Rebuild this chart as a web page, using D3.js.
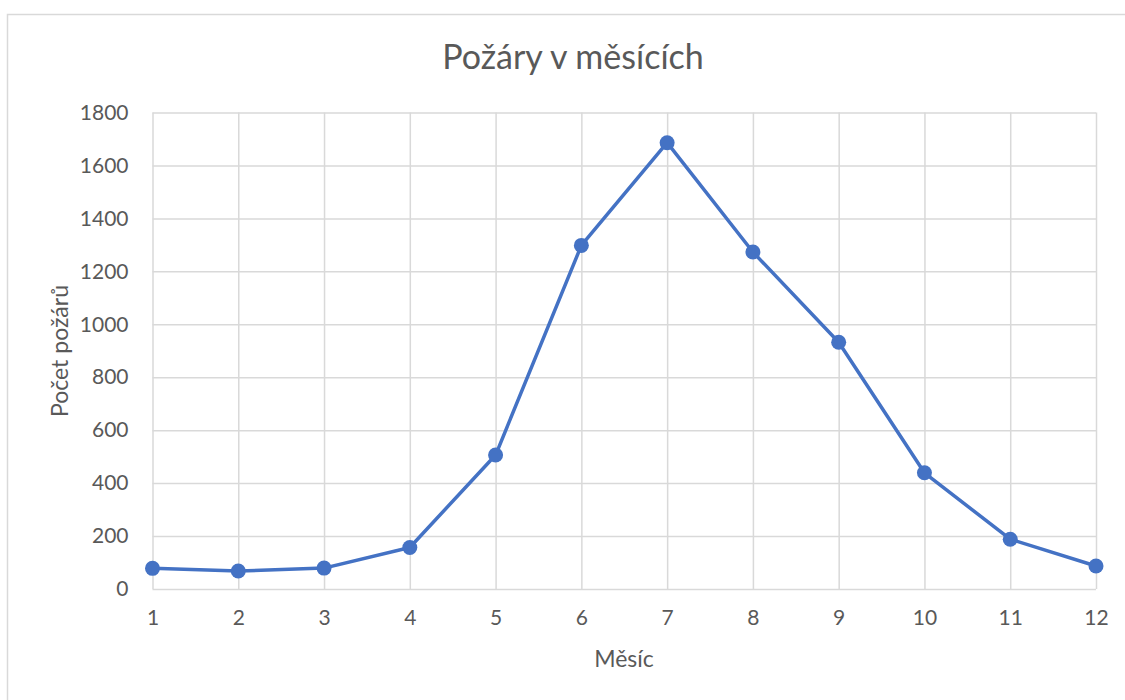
<!DOCTYPE html>
<html>
<head>
<meta charset="utf-8">
<script src="https://cdn.jsdelivr.net/npm/d3@7"></script>
<style>
  body { margin: 0; background: #fff; }
  text { font-family: Lato, "Open Sans", sans-serif; fill: #595959; }
</style>
</head>
<body>
<svg id="chart" width="1125" height="700"></svg>
<script>
  // data
  const months = [1, 2, 3, 4, 5, 6, 7, 8, 9, 10, 11, 12];
  const fires = [78, 68, 79, 157, 506, 1298, 1686, 1273, 932, 439, 188, 87];
  const yTicks = [0, 200, 400, 600, 800, 1000, 1200, 1400, 1600, 1800];
  const chartTitle = 'Požáry v měsících';
  const xTitle = 'Měsíc';
  const yTitle = 'Počet požárů';

  const LINE_COLOR = '#4472C4';
  const GRID_COLOR = '#d9d9d9';

  const svg = d3.select('#chart');
  const margin = { left: 152.5, right: 1096, top: 112.5, bottom: 589 };

  // outer chart border (runs off the right and bottom edge)
  svg.append('rect')
    .attr('x', 7.5).attr('y', 14.5)
    .attr('width', 1130).attr('height', 720)
    .attr('fill', 'none')
    .attr('stroke', GRID_COLOR)
    .attr('stroke-width', 1.5);

  const x = d3.scaleLinear().domain([1, 12]).range([margin.left, margin.right]);
  const y = d3.scaleLinear().domain([0, 1800]).range([margin.bottom, margin.top]);

  // horizontal grid + y labels
  const yAxis = d3.axisLeft(y)
    .tickValues(yTicks)
    .tickFormat(d3.format('d'))
    .tickSize(-(margin.right - margin.left))
    .tickPadding(24);
  const gy = svg.append('g')
    .attr('transform', 'translate(' + margin.left + ',0)')
    .call(yAxis);
  gy.select('.domain').remove();
  gy.selectAll('line').attr('stroke', GRID_COLOR).attr('stroke-width', 1.5);
  gy.selectAll('text').attr('font-size', 21).attr('fill', '#595959');

  // vertical grid + x labels
  const xAxis = d3.axisBottom(x)
    .tickValues(months)
    .tickFormat(d3.format('d'))
    .tickSize(-(margin.bottom - margin.top))
    .tickPadding(21);
  const gx = svg.append('g')
    .attr('transform', 'translate(0,' + margin.bottom + ')')
    .call(xAxis);
  gx.select('.domain').remove();
  gx.selectAll('line').attr('stroke', GRID_COLOR).attr('stroke-width', 1.5);
  gx.selectAll('text').attr('font-size', 21).attr('fill', '#595959');

  // line
  const line = d3.line()
    .x(function (d, i) { return x(months[i]); })
    .y(function (d) { return y(d); });
  svg.append('path')
    .datum(fires)
    .attr('d', line)
    .attr('fill', 'none')
    .attr('stroke', LINE_COLOR)
    .attr('stroke-width', 3.5)
    .attr('stroke-linejoin', 'round');

  svg.selectAll('circle.pt')
    .data(fires)
    .enter()
    .append('circle')
    .attr('class', 'pt')
    .attr('cx', function (d, i) { return x(months[i]); })
    .attr('cy', function (d) { return y(d); })
    .attr('r', 7.5)
    .attr('fill', LINE_COLOR);

  // titles
  svg.append('text')
    .attr('x', 573).attr('y', 69)
    .attr('text-anchor', 'middle')
    .attr('font-size', 34)
    .text(chartTitle);

  svg.append('text')
    .attr('x', 624).attr('y', 667)
    .attr('text-anchor', 'middle')
    .attr('font-size', 23)
    .text(xTitle);

  svg.append('text')
    .attr('transform', 'translate(68,351) rotate(-90)')
    .attr('text-anchor', 'middle')
    .attr('font-size', 23)
    .text(yTitle);
</script>
</body>
</html>
